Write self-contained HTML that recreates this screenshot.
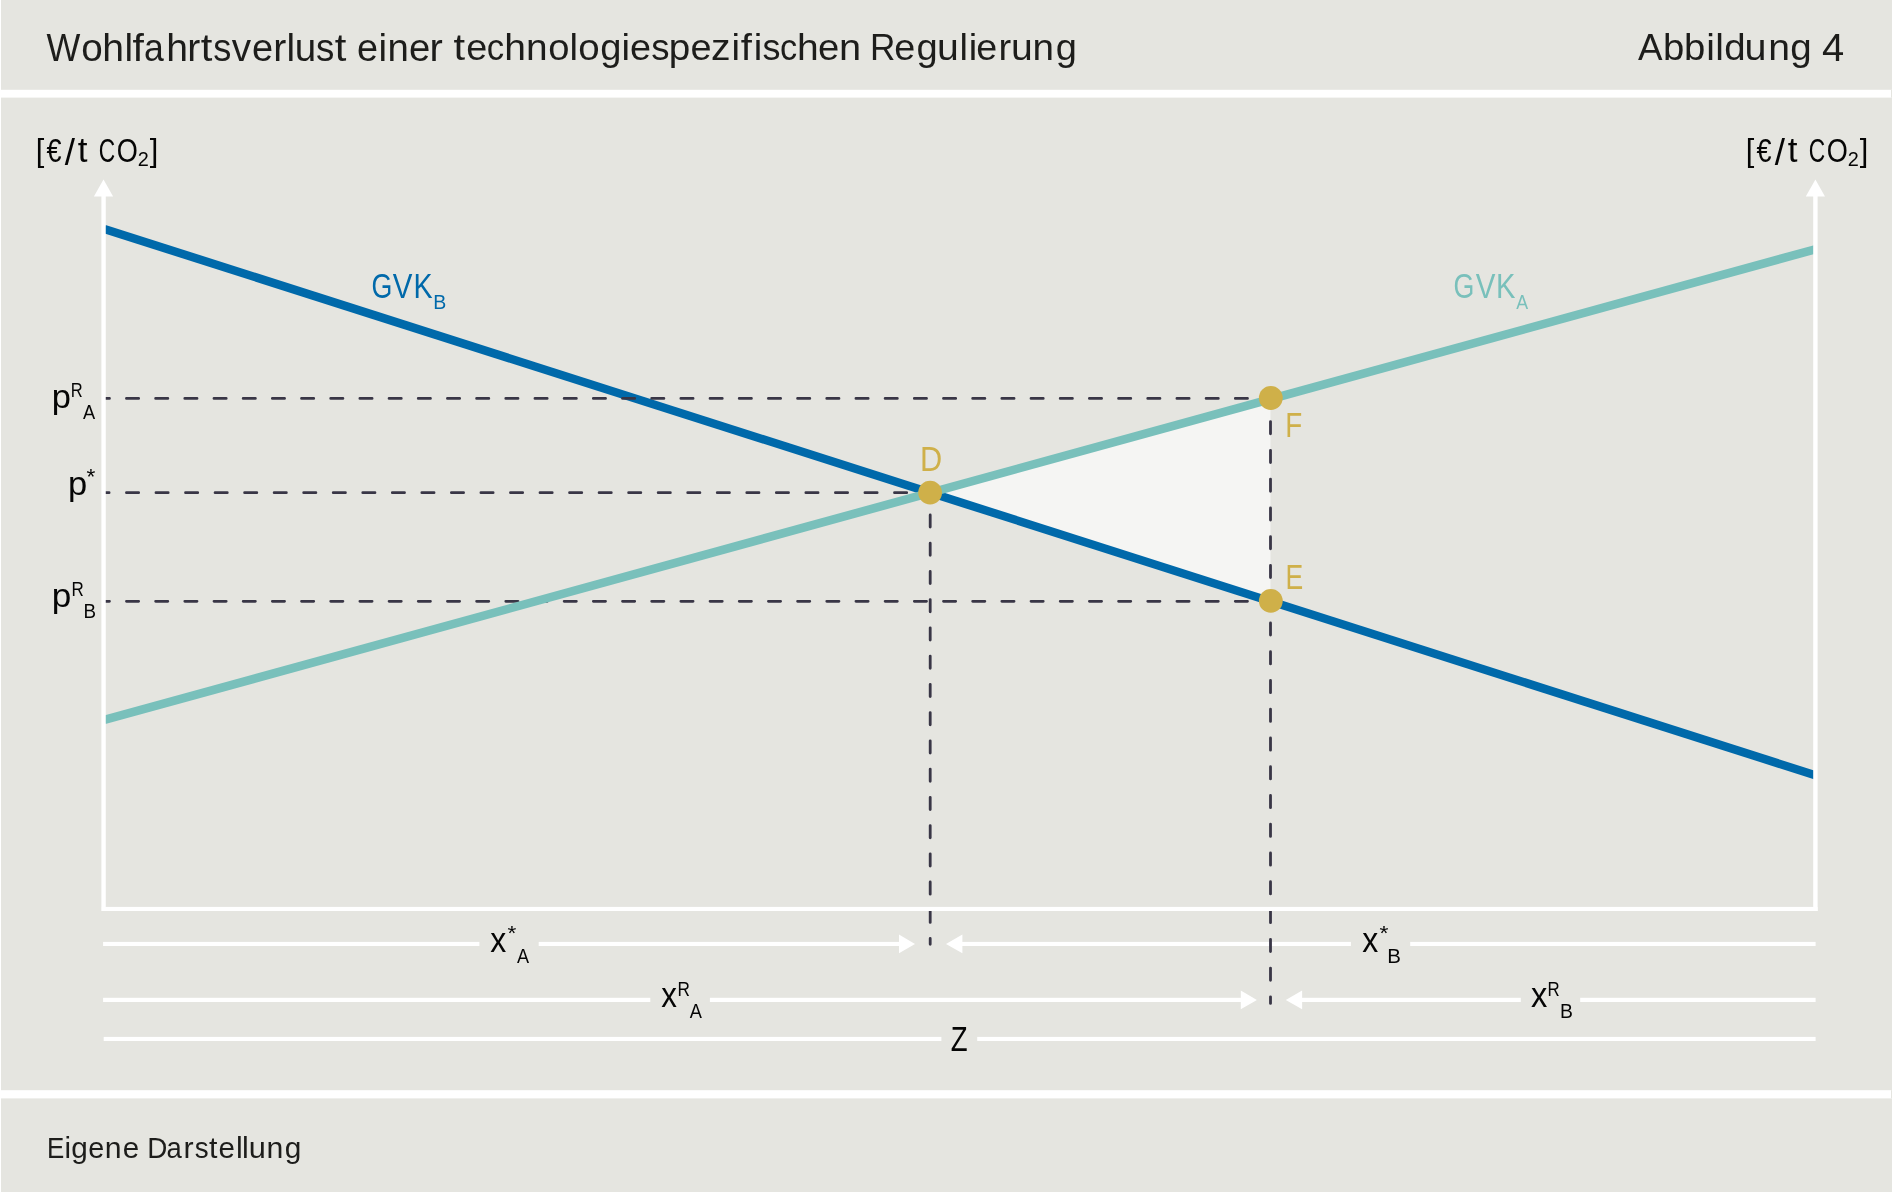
<!DOCTYPE html>
<html><head><meta charset="utf-8"><title>Abbildung 4</title>
<style>
html,body{margin:0;padding:0;background:#fff;width:1892px;height:1192px;overflow:hidden}
svg{display:block;will-change:transform}
text{font-family:"Liberation Sans",sans-serif;white-space:pre}
</style></head><body>
<svg width="1892" height="1192" viewBox="0 0 1892 1192">
<rect x="1" y="0" width="1891" height="89.8" fill="#e5e5e0"/>
<rect x="1" y="97.6" width="1891" height="992.6" fill="#e5e5e0"/>
<rect x="1" y="1098.4" width="1891" height="93.6" fill="#e5e5e0"/>
<rect x="1891" y="89.8" width="1" height="7.8" fill="#e5e5e0"/>
<rect x="1891" y="1090.2" width="1" height="8.2" fill="#e5e5e0"/>
<polygon points="930.2,492.7 1270.5,398.3 1270.5,601.1" fill="#f5f5f3"/>
<line x1="104.3" y1="228.96" x2="1815.2" y2="775.25" stroke="#0069aa" stroke-width="8.4"/>
<rect x="103.1" y="941.9" width="376.3" height="4.1" fill="#fff"/>
<rect x="538.7" y="941.9" width="361.3" height="4.1" fill="#fff"/>
<rect x="961" y="941.9" width="389.9" height="4.1" fill="#fff"/>
<rect x="1410.2" y="941.9" width="405.4" height="4.1" fill="#fff"/>
<rect x="103.1" y="997.8" width="547.2" height="4.2" fill="#fff"/>
<rect x="709.9" y="997.8" width="531.1" height="4.2" fill="#fff"/>
<rect x="1301" y="997.8" width="219.8" height="4.2" fill="#fff"/>
<rect x="1580.2" y="997.8" width="235.4" height="4.2" fill="#fff"/>
<rect x="103.7" y="1036.9" width="837.7" height="4.1" fill="#fff"/>
<rect x="977.2" y="1036.9" width="838.4" height="4.1" fill="#fff"/>
<polygon points="915,943.95 899,934.6 899,953.3" fill="#fff"/>
<polygon points="946,943.95 962.4,934.6 962.4,953.3" fill="#fff"/>
<polygon points="1256.9,999.9 1240.8,990.6 1240.8,1009.2" fill="#fff"/>
<polygon points="1285.8,999.9 1302.1,990.6 1302.1,1009.2" fill="#fff"/>
<line x1="103.7" y1="398.4" x2="1270" y2="398.4" stroke="#393646" stroke-width="2.8" stroke-linecap="round" stroke-dasharray="12.2 16.98" stroke-dashoffset="6.43"/>
<line x1="103.7" y1="492.7" x2="930" y2="492.7" stroke="#393646" stroke-width="2.8" stroke-linecap="round" stroke-dasharray="12.2 17.34" stroke-dashoffset="6.79"/>
<line x1="103.7" y1="601.3" x2="1270" y2="601.3" stroke="#393646" stroke-width="2.8" stroke-linecap="round" stroke-dasharray="12.2 16.98" stroke-dashoffset="6.43"/>
<line x1="930.2" y1="492.7" x2="930.2" y2="944.3" stroke="#393646" stroke-width="2.8" stroke-linecap="round" stroke-dasharray="12.2 16.04" stroke-dashoffset="6.04"/>
<line x1="1270.5" y1="398" x2="1270.5" y2="1003.4" stroke="#393646" stroke-width="2.8" stroke-linecap="round" stroke-dasharray="12.2 16.56" stroke-dashoffset="5.16"/>
<line x1="104.3" y1="719.97" x2="1815.2" y2="249.3" stroke="#79c0bb" stroke-width="8.6"/>
<rect x="101.4" y="190" width="4.35" height="721" fill="#fff"/>
<rect x="1813.2" y="190" width="4.4" height="721" fill="#fff"/>
<rect x="101.8" y="906.9" width="1715.8" height="4.1" fill="#fff"/>
<polygon points="103.5,179.6 113.1,196.6 93.9,196.6" fill="#fff"/>
<polygon points="1815.4,179.6 1825,196.6 1805.8,196.6" fill="#fff"/>
<circle cx="930.1" cy="492.7" r="11.9" fill="#cfb049"/>
<circle cx="1270.8" cy="398" r="11.9" fill="#cfb049"/>
<circle cx="1270.8" cy="600.9" r="11.9" fill="#cfb049"/>
<text x="46.41" y="60.72" font-size="38.54" textLength="33.84" lengthAdjust="spacingAndGlyphs" fill="#1d1d1b">W</text>
<text x="81.16" y="60.72" font-size="38.54" textLength="21.48" lengthAdjust="spacingAndGlyphs" fill="#1d1d1b">o</text>
<text x="102.38" y="60.72" font-size="38.54" textLength="21.77" lengthAdjust="spacingAndGlyphs" fill="#1d1d1b">h</text>
<text x="124.49" y="60.72" font-size="38.54" textLength="8.6" lengthAdjust="spacingAndGlyphs" fill="#1d1d1b">l</text>
<text x="132.53" y="60.72" font-size="38.54" textLength="11.4" lengthAdjust="spacingAndGlyphs" fill="#1d1d1b">f</text>
<text x="143.89" y="60.72" font-size="38.54" textLength="19.8" lengthAdjust="spacingAndGlyphs" fill="#1d1d1b">a</text>
<text x="166.18" y="60.72" font-size="38.54" textLength="21.77" lengthAdjust="spacingAndGlyphs" fill="#1d1d1b">h</text>
<text x="187.36" y="60.72" font-size="38.54" textLength="13.04" lengthAdjust="spacingAndGlyphs" fill="#1d1d1b">r</text>
<text x="200.77" y="60.72" font-size="38.54" textLength="11.63" lengthAdjust="spacingAndGlyphs" fill="#1d1d1b">t</text>
<text x="213.35" y="60.72" font-size="38.54" textLength="18.1" lengthAdjust="spacingAndGlyphs" fill="#1d1d1b">s</text>
<text x="231.77" y="60.72" font-size="38.54" textLength="19.35" lengthAdjust="spacingAndGlyphs" fill="#1d1d1b">v</text>
<text x="251.92" y="60.72" font-size="38.54" textLength="21.13" lengthAdjust="spacingAndGlyphs" fill="#1d1d1b">e</text>
<text x="273.36" y="60.72" font-size="38.54" textLength="13.04" lengthAdjust="spacingAndGlyphs" fill="#1d1d1b">r</text>
<text x="286.49" y="60.72" font-size="38.54" textLength="8.6" lengthAdjust="spacingAndGlyphs" fill="#1d1d1b">l</text>
<text x="294.76" y="60.72" font-size="38.54" textLength="21.43" lengthAdjust="spacingAndGlyphs" fill="#1d1d1b">u</text>
<text x="316.04" y="60.72" font-size="38.54" textLength="18.33" lengthAdjust="spacingAndGlyphs" fill="#1d1d1b">s</text>
<text x="334.77" y="60.72" font-size="38.54" textLength="11.63" lengthAdjust="spacingAndGlyphs" fill="#1d1d1b">t</text>
<text x="357.01" y="60.53" font-size="38.13" textLength="21.06" lengthAdjust="spacingAndGlyphs" fill="#1d1d1b">e</text>
<text x="378.46" y="60.53" font-size="38.13" textLength="8.59" lengthAdjust="spacingAndGlyphs" fill="#1d1d1b">i</text>
<text x="387.49" y="60.53" font-size="38.13" textLength="21.36" lengthAdjust="spacingAndGlyphs" fill="#1d1d1b">n</text>
<text x="408.99" y="60.53" font-size="38.13" textLength="21.3" lengthAdjust="spacingAndGlyphs" fill="#1d1d1b">e</text>
<text x="429.61" y="60.53" font-size="38.13" textLength="13.3" lengthAdjust="spacingAndGlyphs" fill="#1d1d1b">r</text>
<text x="453.49" y="60.03" font-size="37.44" textLength="11.59" lengthAdjust="spacingAndGlyphs" fill="#1d1d1b">t</text>
<text x="466.24" y="60.03" font-size="37.44" textLength="20.99" lengthAdjust="spacingAndGlyphs" fill="#1d1d1b">e</text>
<text x="486.75" y="60.03" font-size="37.44" textLength="17.43" lengthAdjust="spacingAndGlyphs" fill="#1d1d1b">c</text>
<text x="504.22" y="60.03" font-size="37.44" textLength="21.69" lengthAdjust="spacingAndGlyphs" fill="#1d1d1b">h</text>
<text x="526.11" y="60.03" font-size="37.44" textLength="21.61" lengthAdjust="spacingAndGlyphs" fill="#1d1d1b">n</text>
<text x="548.34" y="60.03" font-size="37.44" textLength="21.22" lengthAdjust="spacingAndGlyphs" fill="#1d1d1b">o</text>
<text x="569.57" y="60.03" font-size="37.44" textLength="8.53" lengthAdjust="spacingAndGlyphs" fill="#1d1d1b">l</text>
<text x="578.2" y="60.03" font-size="37.44" textLength="21.4" lengthAdjust="spacingAndGlyphs" fill="#1d1d1b">o</text>
<text x="600.33" y="60.03" font-size="37.44" textLength="21.19" lengthAdjust="spacingAndGlyphs" fill="#1d1d1b">g</text>
<text x="621.49" y="60.03" font-size="37.44" textLength="8.53" lengthAdjust="spacingAndGlyphs" fill="#1d1d1b">i</text>
<text x="629.94" y="60.03" font-size="37.44" textLength="20.99" lengthAdjust="spacingAndGlyphs" fill="#1d1d1b">e</text>
<text x="651.27" y="60.03" font-size="37.44" textLength="18.26" lengthAdjust="spacingAndGlyphs" fill="#1d1d1b">s</text>
<text x="668.86" y="60.03" font-size="37.44" textLength="21.5" lengthAdjust="spacingAndGlyphs" fill="#1d1d1b">p</text>
<text x="690.56" y="60.03" font-size="37.44" textLength="21.05" lengthAdjust="spacingAndGlyphs" fill="#1d1d1b">e</text>
<text x="711.06" y="60.03" font-size="37.44" textLength="19.55" lengthAdjust="spacingAndGlyphs" fill="#1d1d1b">z</text>
<text x="731.44" y="60.03" font-size="37.44" textLength="8.53" lengthAdjust="spacingAndGlyphs" fill="#1d1d1b">i</text>
<text x="740.76" y="60.03" font-size="37.44" textLength="11.15" lengthAdjust="spacingAndGlyphs" fill="#1d1d1b">f</text>
<text x="753.84" y="60.03" font-size="37.44" textLength="8.53" lengthAdjust="spacingAndGlyphs" fill="#1d1d1b">i</text>
<text x="762.56" y="60.03" font-size="37.44" textLength="17.97" lengthAdjust="spacingAndGlyphs" fill="#1d1d1b">s</text>
<text x="779.97" y="60.03" font-size="37.44" textLength="17.2" lengthAdjust="spacingAndGlyphs" fill="#1d1d1b">c</text>
<text x="797.12" y="60.03" font-size="37.44" textLength="21.69" lengthAdjust="spacingAndGlyphs" fill="#1d1d1b">h</text>
<text x="817.92" y="60.03" font-size="37.44" textLength="21.23" lengthAdjust="spacingAndGlyphs" fill="#1d1d1b">e</text>
<text x="838.95" y="60.03" font-size="37.44" textLength="22.14" lengthAdjust="spacingAndGlyphs" fill="#1d1d1b">n</text>
<text x="870.02" y="60.03" font-size="37.44" textLength="25.4" lengthAdjust="spacingAndGlyphs" fill="#1d1d1b">R</text>
<text x="894.29" y="60.03" font-size="37.44" textLength="20.99" lengthAdjust="spacingAndGlyphs" fill="#1d1d1b">e</text>
<text x="916.58" y="60.03" font-size="37.44" textLength="21.19" lengthAdjust="spacingAndGlyphs" fill="#1d1d1b">g</text>
<text x="936.96" y="60.03" font-size="37.44" textLength="21.75" lengthAdjust="spacingAndGlyphs" fill="#1d1d1b">u</text>
<text x="959.45" y="60.03" font-size="37.44" textLength="8.48" lengthAdjust="spacingAndGlyphs" fill="#1d1d1b">l</text>
<text x="968.77" y="60.03" font-size="37.44" textLength="8.48" lengthAdjust="spacingAndGlyphs" fill="#1d1d1b">i</text>
<text x="976.27" y="60.03" font-size="37.44" textLength="20.93" lengthAdjust="spacingAndGlyphs" fill="#1d1d1b">e</text>
<text x="998.46" y="60.03" font-size="37.44" textLength="12.68" lengthAdjust="spacingAndGlyphs" fill="#1d1d1b">r</text>
<text x="1010.96" y="60.03" font-size="37.44" textLength="21.75" lengthAdjust="spacingAndGlyphs" fill="#1d1d1b">u</text>
<text x="1032.63" y="60.03" font-size="37.44" textLength="21.48" lengthAdjust="spacingAndGlyphs" fill="#1d1d1b">n</text>
<text x="1055.66" y="60.03" font-size="37.44" textLength="21.13" lengthAdjust="spacingAndGlyphs" fill="#1d1d1b">g</text>
<text x="1637.94" y="59.96" font-size="37.76" textLength="24.52" lengthAdjust="spacingAndGlyphs" fill="#1d1d1b">A</text>
<text x="1663.11" y="59.96" font-size="37.76" textLength="21.31" lengthAdjust="spacingAndGlyphs" fill="#1d1d1b">b</text>
<text x="1684.11" y="59.96" font-size="37.76" textLength="21.31" lengthAdjust="spacingAndGlyphs" fill="#1d1d1b">b</text>
<text x="1706.39" y="59.96" font-size="37.76" textLength="8.63" lengthAdjust="spacingAndGlyphs" fill="#1d1d1b">i</text>
<text x="1715.28" y="59.96" font-size="37.76" textLength="8.63" lengthAdjust="spacingAndGlyphs" fill="#1d1d1b">l</text>
<text x="1724.19" y="59.96" font-size="37.76" textLength="21.37" lengthAdjust="spacingAndGlyphs" fill="#1d1d1b">d</text>
<text x="1744.48" y="59.96" font-size="37.76" textLength="21.99" lengthAdjust="spacingAndGlyphs" fill="#1d1d1b">u</text>
<text x="1768.25" y="59.96" font-size="37.76" textLength="21.73" lengthAdjust="spacingAndGlyphs" fill="#1d1d1b">n</text>
<text x="1790.31" y="59.96" font-size="37.76" textLength="21.44" lengthAdjust="spacingAndGlyphs" fill="#1d1d1b">g</text>
<text x="1821.99" y="60.9" font-size="37.94" textLength="22.18" lengthAdjust="spacingAndGlyphs" fill="#1d1d1b">4</text>
<text x="46.9" y="1157.71" font-size="29.82" textLength="17.28" lengthAdjust="spacingAndGlyphs" fill="#1d1d1b">E</text>
<text x="64.43" y="1157.71" font-size="29.82" textLength="6.55" lengthAdjust="spacingAndGlyphs" fill="#1d1d1b">i</text>
<text x="71.31" y="1157.71" font-size="29.82" textLength="16.55" lengthAdjust="spacingAndGlyphs" fill="#1d1d1b">g</text>
<text x="88.22" y="1157.71" font-size="29.82" textLength="16.02" lengthAdjust="spacingAndGlyphs" fill="#1d1d1b">e</text>
<text x="104.86" y="1157.71" font-size="29.82" textLength="16.84" lengthAdjust="spacingAndGlyphs" fill="#1d1d1b">n</text>
<text x="122.66" y="1157.71" font-size="29.82" textLength="16.44" lengthAdjust="spacingAndGlyphs" fill="#1d1d1b">e</text>
<text x="147.27" y="1157.71" font-size="29.82" textLength="20.11" lengthAdjust="spacingAndGlyphs" fill="#1d1d1b">D</text>
<text x="166.58" y="1157.71" font-size="29.82" textLength="15.27" lengthAdjust="spacingAndGlyphs" fill="#1d1d1b">a</text>
<text x="183.64" y="1157.71" font-size="29.82" textLength="10.12" lengthAdjust="spacingAndGlyphs" fill="#1d1d1b">r</text>
<text x="194.76" y="1157.71" font-size="29.82" textLength="13.9" lengthAdjust="spacingAndGlyphs" fill="#1d1d1b">s</text>
<text x="209.01" y="1157.71" font-size="29.82" textLength="8.44" lengthAdjust="spacingAndGlyphs" fill="#1d1d1b">t</text>
<text x="218.56" y="1157.71" font-size="29.82" textLength="16.45" lengthAdjust="spacingAndGlyphs" fill="#1d1d1b">e</text>
<text x="236.02" y="1157.71" font-size="29.82" textLength="6.75" lengthAdjust="spacingAndGlyphs" fill="#1d1d1b">l</text>
<text x="242.12" y="1157.71" font-size="29.82" textLength="6.75" lengthAdjust="spacingAndGlyphs" fill="#1d1d1b">l</text>
<text x="248.78" y="1157.71" font-size="29.82" textLength="17.09" lengthAdjust="spacingAndGlyphs" fill="#1d1d1b">u</text>
<text x="266.46" y="1157.71" font-size="29.82" textLength="16.83" lengthAdjust="spacingAndGlyphs" fill="#1d1d1b">n</text>
<text x="284.63" y="1157.71" font-size="29.82" textLength="16.61" lengthAdjust="spacingAndGlyphs" fill="#1d1d1b">g</text>
<text id="t_gvkb_g" x="371.45" y="297.67" font-size="34.18" textLength="20.85" lengthAdjust="spacingAndGlyphs" fill="#0069aa">G</text>
<text id="t_gvkb_v" x="392.87" y="298" font-size="35.18" textLength="19.66" lengthAdjust="spacingAndGlyphs" fill="#0069aa">V</text>
<text id="t_gvkb_k" x="413.46" y="298" font-size="35.18" textLength="19.07" lengthAdjust="spacingAndGlyphs" fill="#0069aa">K</text>
<text id="t_gvkb2" x="433.3" y="309" font-size="20.35" textLength="13.03" lengthAdjust="spacingAndGlyphs" fill="#0069aa">B</text>
<text id="t_gvka_g" x="1453.45" y="297.67" font-size="34.18" textLength="20.85" lengthAdjust="spacingAndGlyphs" fill="#79c0bb">G</text>
<text id="t_gvka_v" x="1475.87" y="298" font-size="35.18" textLength="19.66" lengthAdjust="spacingAndGlyphs" fill="#79c0bb">V</text>
<text id="t_gvka_k" x="1496.11" y="298" font-size="35.18" textLength="19.41" lengthAdjust="spacingAndGlyphs" fill="#79c0bb">K</text>
<text id="t_gvka2" x="1516.17" y="309" font-size="20.35" textLength="11.87" lengthAdjust="spacingAndGlyphs" fill="#79c0bb">A</text>
<text id="t_D" x="919.88" y="471.1" font-size="34.74" textLength="22.19" lengthAdjust="spacingAndGlyphs" fill="#cfb049">D</text>
<text id="t_F" x="1285.32" y="436.8" font-size="34.59" textLength="17" lengthAdjust="spacingAndGlyphs" fill="#cfb049">F</text>
<text id="t_E" x="1285.42" y="588.9" font-size="34.59" textLength="17.72" lengthAdjust="spacingAndGlyphs" fill="#cfb049">E</text>
<text id="t_pra_p" x="51.78" y="407.99" font-size="33.28" textLength="19.17" lengthAdjust="spacingAndGlyphs" fill="#050505">p</text>
<text id="t_pra_r" x="70.75" y="396.8" font-size="19.77" textLength="11.92" lengthAdjust="spacingAndGlyphs" fill="#050505">R</text>
<text id="t_pra_a" x="82.96" y="418.9" font-size="20.2" textLength="12.17" lengthAdjust="spacingAndGlyphs" fill="#050505">A</text>
<text id="t_ps_p" x="67.98" y="494.92" font-size="33.15" textLength="19.17" lengthAdjust="spacingAndGlyphs" fill="#050505">p</text>
<text id="t_ps_s" x="86.63" y="484.39" font-size="21.65" textLength="8.82" lengthAdjust="spacingAndGlyphs" fill="#050505">*</text>
<text id="t_prb_p" x="51.74" y="606.92" font-size="33.15" textLength="19.54" lengthAdjust="spacingAndGlyphs" fill="#050505">p</text>
<text id="t_prb_r" x="71.5" y="595.9" font-size="20.06" textLength="12.28" lengthAdjust="spacingAndGlyphs" fill="#050505">R</text>
<text id="t_prb_b" x="83.56" y="617.9" font-size="19.91" textLength="12.53" lengthAdjust="spacingAndGlyphs" fill="#050505">B</text>
<text id="t_xsa_x" x="490.14" y="952" font-size="34.45" textLength="16" lengthAdjust="spacingAndGlyphs" fill="#050505">x</text>
<text id="t_xsa_s" x="507.53" y="939.91" font-size="20.79" textLength="8.82" lengthAdjust="spacingAndGlyphs" fill="#050505">*</text>
<text id="t_xsa_a" x="516.96" y="962.8" font-size="20.06" textLength="12.07" lengthAdjust="spacingAndGlyphs" fill="#050505">A</text>
<text id="t_xsb_x" x="1362.24" y="952" font-size="34.45" textLength="16" lengthAdjust="spacingAndGlyphs" fill="#050505">x</text>
<text id="t_xsb_s" x="1379.53" y="939.91" font-size="20.79" textLength="8.93" lengthAdjust="spacingAndGlyphs" fill="#050505">*</text>
<text id="t_xsb_b" x="1387.32" y="963.1" font-size="20.49" textLength="13.66" lengthAdjust="spacingAndGlyphs" fill="#050505">B</text>
<text id="t_xra_x" x="661.35" y="1007" font-size="34.45" textLength="15.69" lengthAdjust="spacingAndGlyphs" fill="#050505">x</text>
<text id="t_xra_r" x="677.39" y="995.8" font-size="20.06" textLength="12.41" lengthAdjust="spacingAndGlyphs" fill="#050505">R</text>
<text id="t_xra_a" x="689.86" y="1017.8" font-size="20.06" textLength="12.17" lengthAdjust="spacingAndGlyphs" fill="#050505">A</text>
<text id="t_xrb_x" x="1531.03" y="1007" font-size="34.45" textLength="16.32" lengthAdjust="spacingAndGlyphs" fill="#050505">x</text>
<text id="t_xrb_r" x="1547.62" y="995.8" font-size="20.06" textLength="12.16" lengthAdjust="spacingAndGlyphs" fill="#050505">R</text>
<text id="t_xrb_b" x="1560.11" y="1018" font-size="20.35" textLength="12.91" lengthAdjust="spacingAndGlyphs" fill="#050505">B</text>
<text id="t_Z" x="950.63" y="1051.3" font-size="35.32" textLength="16.84" lengthAdjust="spacingAndGlyphs" fill="#050505">Z</text>
<text id="t_lab1_lb" x="35.76" y="160.5" font-size="31.33" textLength="8.54" lengthAdjust="spacingAndGlyphs" fill="#050505">[</text>
<text id="t_lab1_eu" x="46.44" y="161.68" font-size="32.63" textLength="15.02" lengthAdjust="spacingAndGlyphs" fill="#050505">€</text>
<text id="t_lab1_sl" x="64.76" y="164.6" font-size="36.78" textLength="10.22" lengthAdjust="spacingAndGlyphs" fill="#050505">/</text>
<text id="t_lab1_t" x="77.71" y="161.73" font-size="35.06" textLength="9.74" lengthAdjust="spacingAndGlyphs" fill="#050505">t</text>
<text id="t_lab1_c" x="98.84" y="161.67" font-size="33.97" textLength="16.44" lengthAdjust="spacingAndGlyphs" fill="#050505">C</text>
<text id="t_lab1_o" x="116.84" y="161.67" font-size="33.97" textLength="21.08" lengthAdjust="spacingAndGlyphs" fill="#050505">O</text>
<text id="t_lab1_two" x="137.84" y="165.9" font-size="19.62" textLength="11.06" lengthAdjust="spacingAndGlyphs" fill="#050505">2</text>
<text id="t_lab1_rb" x="149.7" y="160.53" font-size="31.17" textLength="8.53" lengthAdjust="spacingAndGlyphs" fill="#050505">]</text>
<text id="t_lab2_lb" x="1745.76" y="160.5" font-size="31.33" textLength="8.54" lengthAdjust="spacingAndGlyphs" fill="#050505">[</text>
<text id="t_lab2_eu" x="1756.44" y="161.68" font-size="32.63" textLength="15.02" lengthAdjust="spacingAndGlyphs" fill="#050505">€</text>
<text id="t_lab2_sl" x="1774.76" y="164.6" font-size="36.78" textLength="10.22" lengthAdjust="spacingAndGlyphs" fill="#050505">/</text>
<text id="t_lab2_t" x="1787.71" y="161.73" font-size="35.06" textLength="9.74" lengthAdjust="spacingAndGlyphs" fill="#050505">t</text>
<text id="t_lab2_c" x="1808.84" y="161.67" font-size="33.97" textLength="16.44" lengthAdjust="spacingAndGlyphs" fill="#050505">C</text>
<text id="t_lab2_o" x="1826.84" y="161.67" font-size="33.97" textLength="21.08" lengthAdjust="spacingAndGlyphs" fill="#050505">O</text>
<text id="t_lab2_two" x="1847.84" y="165.9" font-size="19.62" textLength="11.06" lengthAdjust="spacingAndGlyphs" fill="#050505">2</text>
<text id="t_lab2_rb" x="1859.7" y="160.53" font-size="31.17" textLength="8.53" lengthAdjust="spacingAndGlyphs" fill="#050505">]</text>
</svg>
</body></html>
